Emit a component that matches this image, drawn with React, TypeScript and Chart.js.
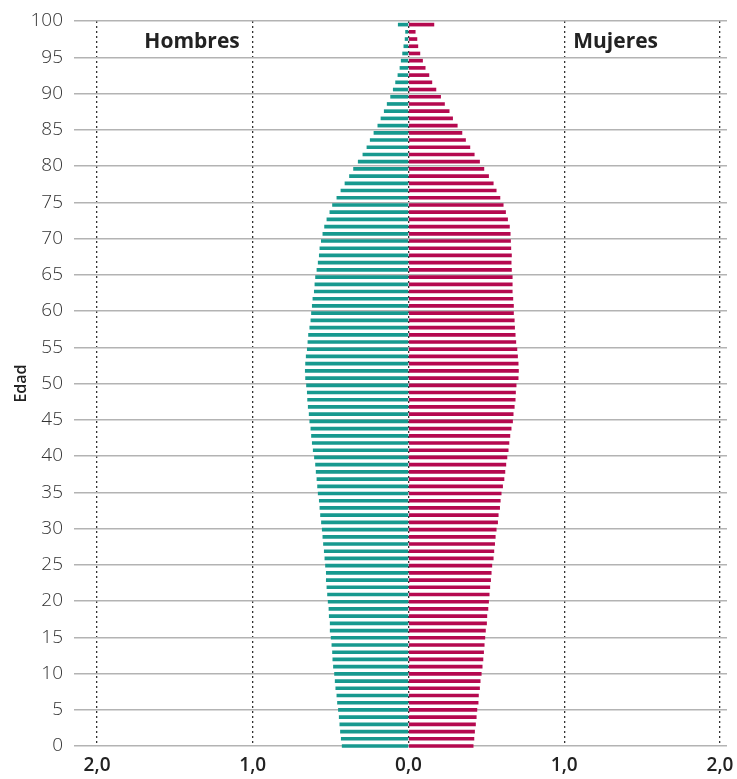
import { useEffect, useRef } from "react";
import { Chart, registerables } from "chart.js";

Chart.register(...registerables);

// Edad (años cumplidos), de 0 a 100
const ages = [
  0, 1, 2, 3, 4, 5, 6, 7, 8, 9, 10, 11, 12, 13, 14, 15, 16, 17, 18, 19, 20,
  21, 22, 23, 24, 25, 26, 27, 28, 29, 30, 31, 32, 33, 34, 35, 36, 37, 38, 39, 40,
  41, 42, 43, 44, 45, 46, 47, 48, 49, 50, 51, 52, 53, 54, 55, 56, 57, 58, 59, 60,
  61, 62, 63, 64, 65, 66, 67, 68, 69, 70, 71, 72, 73, 74, 75, 76, 77, 78, 79, 80,
  81, 82, 83, 84, 85, 86, 87, 88, 89, 90, 91, 92, 93, 94, 95, 96, 97, 98, 99, 100,
];

// Porcentaje de población (hombres), edad 0 → 100
const hombres = [
  0.426, 0.432, 0.437, 0.441, 0.445, 0.45, 0.456, 0.46, 0.467, 0.471,
  0.475, 0.482, 0.486, 0.488, 0.492, 0.497, 0.503, 0.503, 0.509, 0.511,
  0.516, 0.52, 0.524, 0.528, 0.528, 0.533, 0.537, 0.541, 0.546, 0.55,
  0.554, 0.559, 0.565, 0.569, 0.573, 0.58, 0.584, 0.588, 0.593, 0.597,
  0.604, 0.612, 0.618, 0.623, 0.627, 0.634, 0.638, 0.644, 0.648, 0.65,
  0.655, 0.661, 0.663, 0.661, 0.657, 0.65, 0.646, 0.642, 0.634, 0.627,
  0.623, 0.618, 0.614, 0.605, 0.601, 0.597, 0.588, 0.58, 0.573, 0.569,
  0.56, 0.55, 0.539, 0.524, 0.505, 0.488, 0.46, 0.434, 0.408, 0.379,
  0.353, 0.323, 0.293, 0.267, 0.246, 0.222, 0.197, 0.177, 0.156, 0.137,
  0.115, 0.098, 0.083, 0.068, 0.055, 0.047, 0.038, 0.03, 0.022, 0.019,
  0.066,
];

// Porcentaje de población (mujeres), edad 0 → 100
const mujeres = [
  0.415, 0.42, 0.424, 0.43, 0.435, 0.439, 0.447, 0.449, 0.456, 0.46,
  0.467, 0.473, 0.478, 0.482, 0.486, 0.49, 0.494, 0.501, 0.503, 0.51,
  0.514, 0.518, 0.522, 0.527, 0.531, 0.535, 0.544, 0.548, 0.553, 0.557,
  0.563, 0.572, 0.576, 0.585, 0.589, 0.595, 0.604, 0.613, 0.619, 0.625,
  0.632, 0.64, 0.645, 0.651, 0.659, 0.668, 0.672, 0.679, 0.685, 0.687,
  0.691, 0.704, 0.706, 0.704, 0.7, 0.696, 0.689, 0.685, 0.681, 0.679,
  0.674, 0.674, 0.67, 0.666, 0.666, 0.666, 0.661, 0.659, 0.661, 0.657,
  0.655, 0.653, 0.648, 0.636, 0.623, 0.608, 0.587, 0.563, 0.544, 0.514,
  0.484, 0.456, 0.422, 0.394, 0.366, 0.343, 0.313, 0.283, 0.261, 0.231,
  0.206, 0.176, 0.15, 0.131, 0.107, 0.09, 0.073, 0.06, 0.054, 0.043,
  0.163,
];

const xTickValues = [-2, -1, 0, 1, 2];
const yTickValues = [0, 5, 10, 15, 20, 25, 30, 35, 40, 45, 50, 55, 60, 65, 70, 75, 80, 85, 90, 95, 100];

const panelLabels = [
  { text: "Hombres", x: -1.39, y: 97.1 },
  { text: "Mujeres", x: 1.33, y: 97.1 },
];

const TEAL = "#17998f";
const CRIMSON = "#b5094f";

const panelLabelPlugin = {
  id: "panelLabels",
  afterDatasetsDraw(chart: any) {
    const { ctx, scales } = chart;
    const xs = scales.x;
    const ys = scales.y;
    ctx.save();
    ctx.font = 'bold 21px "Open Sans"';
    ctx.fillStyle = "#222";
    ctx.textAlign = "center";
    ctx.textBaseline = "middle";
    panelLabels.forEach((l) => {
      ctx.fillText(l.text, xs.getPixelForValue(l.x), ys.getPixelForValue(l.y));
    });
    ctx.restore();
  },
};

export default function App() {
  const canvasRef = useRef<HTMLCanvasElement | null>(null);

  useEffect(() => {
    if (!canvasRef.current) return;
    const chart = new Chart(canvasRef.current, {
      type: "bar",
      data: {
        datasets: [
          {
            label: "Hombres",
            data: ages.map((a, i) => ({ x: -hombres[i], y: a })),
            backgroundColor: TEAL,
            yAxisID: "yb",
            grouped: false,
            barThickness: 3,
            clip: false,
          } as any,
          {
            label: "Mujeres",
            data: ages.map((a, i) => ({ x: mujeres[i], y: a })),
            backgroundColor: CRIMSON,
            yAxisID: "yb",
            grouped: false,
            barThickness: 3,
            clip: false,
          } as any,
        ],
      },
      options: {
        indexAxis: "y",
        animation: false,
        responsive: true,
        maintainAspectRatio: false,
        layout: { padding: { top: 21, right: 10, bottom: 0, left: 0 } },
        plugins: {
          legend: { display: false },
          tooltip: { enabled: false },
        },
        scales: {
          x: {
            type: "linear",
            position: "bottom",
            min: -2.148,
            max: 2.045,
            offset: false,
            z: 1,
            afterBuildTicks: (s: any) => {
              s.ticks = xTickValues.map((v) => ({ value: v }));
            },
            afterFit: (s: any) => {
              s.height = 33;
              s.paddingLeft = 0;
              s.paddingRight = 0;
            },
            grid: {
              color: "#333",
              lineWidth: 1.3,
              drawTicks: false,
              offset: false,
            },
            border: { display: false, dash: [2, 3] },
            ticks: {
              padding: 8,
              color: "#222",
              font: { family: "Open Sans", size: 19, weight: 600 },
              callback: (v: any) => Math.abs(Number(v)).toFixed(1).replace(".", ","),
            },
          },
          y: {
            type: "linear",
            position: "left",
            min: 0,
            max: 100,
            offset: false,
            afterBuildTicks: (s: any) => {
              s.ticks = yTickValues.map((v) => ({ value: v }));
            },
            afterFit: (s: any) => {
              s.width = 74;
              s.paddingTop = 0;
              s.paddingBottom = 0;
            },
            grid: {
              color: "#b3b3b3",
              lineWidth: 1.4,
              drawTicks: false,
              offset: false,
            },
            border: { display: false },
            ticks: {
              padding: 11,
              color: "#333",
              font: { family: "Open Sans", size: 19, weight: 300 },
            },
            title: {
              display: true,
              text: "Edad",
              color: "#222",
              padding: { top: 12, bottom: 0 },
              font: { family: "Open Sans", size: 16, weight: 600 },
            },
          },
          yb: {
            type: "linear",
            display: false,
            offset: false,
            grid: { offset: false },
            min: 0,
            max: 100.5,
          },
        },
      },
      plugins: [panelLabelPlugin],
    } as any);
    return () => chart.destroy();
  }, []);

  return (
    <div style={{ position: "fixed", left: 0, top: 0, width: 737, height: 779, background: "#fff" }}>
      <canvas ref={canvasRef} />
    </div>
  );
}
